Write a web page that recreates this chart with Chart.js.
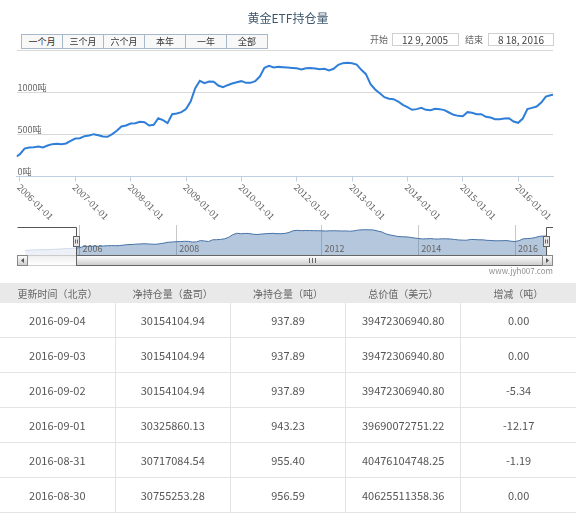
<!DOCTYPE html>
<html><head><meta charset="utf-8">
<script src="https://cdn.jsdelivr.net/npm/chart.js@4.4.1/dist/chart.umd.min.js"></script>
<style>
html,body{margin:0;padding:0;background:#fff;}
body{width:576px;height:515px;position:relative;overflow:hidden;font-family:"Noto Sans CJK SC","Noto Sans",sans-serif;}
#main{position:absolute;left:0;top:0;}
#nav{position:absolute;left:0;top:220px;}
#title{position:absolute;left:0;top:10px;width:576px;text-align:center;font-size:12px;line-height:16px;color:#3E576F;}
.btn{position:absolute;top:34px;height:15px;line-height:13px;width:42px;box-sizing:border-box;border:1px solid #a9b8c8;background:#f8f8f8;font-size:9px;color:#333;text-align:center;}
.lbl{position:absolute;top:33px;font-size:9px;line-height:13px;color:#666;}
.inp{position:absolute;top:33px;height:13px;box-sizing:border-box;border:1px solid #d0d0d0;background:#fff;font-size:10px;line-height:11px;color:#444;text-align:center;}
#credit{position:absolute;right:23px;top:265px;font-size:8px;line-height:11px;color:#909090;}
#tbl{position:absolute;left:0;top:283px;width:576px;border-collapse:collapse;table-layout:fixed;}
#tbl th{height:20px;padding:0;background:#e9e9e9;font-weight:normal;font-size:10px;color:#666;}
#tbl td{height:34px;padding:0;text-align:center;font-size:11px;color:#555;border-bottom:1px solid #e4e4e4;border-right:1px solid #e4e4e4;}
#tbl td:last-child{border-right:none;}
</style>
</head><body>
<canvas id="main" width="576" height="225"></canvas>
<canvas id="nav" width="576" height="55"></canvas>
<div id="title">黄金ETF持仓量</div>
<div id="controls"></div>
<div id="credit">www.jyh007.com</div>
<table id="tbl"><thead><tr id="thead"></tr></thead><tbody id="tbody"></tbody></table>
<script>
// ---------- data ----------
const chartTitle = '黄金ETF持仓量';
const startDate = '2005-12-09';
const endDate = '2016-08-18';
const axisYears = [2006, 2007, 2008, 2009, 2010, 2012, 2013, 2014, 2015, 2016];
const tickLabels = ['2006-01-01','2007-01-01','2008-01-01','2009-01-01','2010-01-01','2012-01-01','2013-01-01','2014-01-01','2015-01-01','2016-01-01'];
const yTicks = [0, 500, 1000, 1500];
const yUnit = '吨';
// monthly holdings (tonnes): 2005-12-09, then the 1st of each month of axisYears (2016 to Aug), then 2016-08-18
const holdings = [238,
  266,333,345,349,357,345,369,385,389,385,393,425,
  452,456,480,488,504,492,476,472,504,544,595,607,
  631,635,651,647,607,615,694,671,635,742,750,766,
  802,893,1052,1139,1111,1131,1127,1083,1063,1087,1107,1123,
  1135,1115,1115,1135,1190,1294,1317,1297,1305,1301,1297,1293,
  1289,1274,1289,1293,1285,1278,1282,1262,1282,1329,1349,1353,
  1349,1333,1270,1218,1099,1036,992,944,925,921,893,853,
  825,794,802,817,794,790,806,802,790,762,734,722,
  718,766,758,742,742,710,702,683,683,690,694,655,
  639,690,802,817,833,881,952,968,
  972];
const navEarlyDates = ['2004-11-18','2004-12-01','2005-01-01','2005-02-01','2005-03-01','2005-04-01','2005-05-01','2005-06-01','2005-07-01','2005-08-01','2005-09-01','2005-10-01','2005-11-01'];
const navEarlyHoldings = [85,105,120,130,140,145,150,160,170,180,195,210,225];
const navLateDates = ['2016-08-31','2016-09-04'];
const navLateHoldings = [955, 938];
const navTickYears = ['2006','2008','2012','2014','2016'];
const rangeButtons = ['一个月','三个月','六个月','本年','一年','全部'];
const inputLabels = ['开始','结束'];
const inputValues = ['12 9, 2005','8 18, 2016'];
const tableHeaders = ['更新时间（北京）','净持仓量（盎司）','净持仓量（吨）','总价值（美元）','增减（吨）'];
const tableDates = ['2016-09-04','2016-09-03','2016-09-02','2016-09-01','2016-08-31','2016-08-30'];
const tableOunces = ['30154104.94','30154104.94','30154104.94','30325860.13','30717084.54','30755253.28'];
const tableTonnes = ['937.89','937.89','937.89','943.23','955.40','956.59'];
const tableValues = ['39472306940.80','39472306940.80','39472306940.80','39690072751.22','40476104748.25','40625511358.36'];
const tableChanges = ['0.00','0.00','-5.34','-12.17','-1.19','0.00'];

// ---------- helpers ----------
const FONT = '"Noto Sans CJK SC", "Noto Sans", sans-serif';
const dates = [startDate];
axisYears.forEach(y => { const last = (y === 2016) ? 8 : 12; for (let m = 1; m <= last; m++) dates.push(y + '-' + String(m).padStart(2,'0') + '-01'); });
dates.push(endDate);
function ordinalX(s){ const p = s.split('-').map(Number); const y = p[0], m = p[1] || 1, d = p[2] || 1; let yi = axisYears.indexOf(y); if (yi < 0) yi = y - axisYears[0]; return yi*12 + (m-1) + (d-1)/31; }
const navDates = navEarlyDates.concat(dates, navLateDates);
const navHoldings = navEarlyHoldings.concat(holdings, navLateHoldings);

// ---------- html controls / table ----------
document.getElementById('title').textContent = chartTitle;
const ctl = document.getElementById('controls');
rangeButtons.forEach((t,i) => { const b = document.createElement('div'); b.className='btn'; b.style.left=(21+i*41)+'px'; b.textContent=t; ctl.appendChild(b); });
[[370,391.5,67],[465,488,66]].forEach((p,i) => {
  const l = document.createElement('div'); l.className='lbl'; l.style.left=p[0]+'px'; l.textContent=inputLabels[i]; ctl.appendChild(l);
  const v = document.createElement('div'); v.className='inp'; v.style.left=p[1]+'px'; v.style.width=p[2]+'px'; v.textContent=inputValues[i]; ctl.appendChild(v);
});
const thr = document.getElementById('thead');
tableHeaders.forEach(h => { const th=document.createElement('th'); th.textContent=h; thr.appendChild(th); });
const tb = document.getElementById('tbody');
tableDates.forEach((d,i) => { const tr=document.createElement('tr'); [d,tableOunces[i],tableTonnes[i],tableValues[i],tableChanges[i]].forEach(v=>{const td=document.createElement('td'); td.textContent=v; tr.appendChild(td);}); tb.appendChild(tr); });

// ---------- main chart ----------
const xLabelPlugin = { id:'xlabels', afterDraw(c){
  const {ctx, scales:{x}, chartArea:a} = c; ctx.save();
  ctx.font = '9px ' + FONT; ctx.fillStyle = '#666'; ctx.textAlign='left'; ctx.textBaseline='middle';
  tickLabels.forEach(l => { const px = x.getPixelForValue(ordinalX(l)); ctx.save(); ctx.translate(px-1, a.bottom+9); ctx.rotate(Math.PI/4); ctx.fillText(l,0,0); ctx.restore(); });
  ctx.restore(); } };

new Chart(document.getElementById('main'), {
  type:'line',
  data:{ datasets:[{ data: dates.map((d,i)=>({x:ordinalX(d), y:holdings[i]})), borderColor:'#2f7ed8', borderWidth:2, pointRadius:0, tension:0, fill:false }] },
  options:{
    responsive:false, animation:false, devicePixelRatio:1,
    layout:{ padding:{ left:14.5, right:23, top:50.5, bottom:43.5 } },
    plugins:{ legend:{display:false}, tooltip:{enabled:false} },
    scales:{
      x:{ type:'linear', min:ordinalX(startDate), max:ordinalX(endDate),
          afterBuildTicks: s => { s.ticks = tickLabels.map(l=>({value:ordinalX(l)})); },
          ticks:{display:false},
          grid:{ drawOnChartArea:false, drawTicks:true, tickLength:5, color:'#C0D0E0' },
          border:{ display:true, color:'#C0D0E0', width:1 } },
      y:{ min:yTicks[0], max:yTicks[yTicks.length-1],
          afterBuildTicks: s => { s.ticks = yTicks.map(v=>({value:v})); },
          ticks:{ mirror:true, padding:1, labelOffset:-5, color:'#666', font:{size:9, family:FONT},
                  callback: v => v === yTicks[yTicks.length-1] ? '' : v + yUnit },
          grid:{ drawTicks:false, lineWidth:1, color: c => (c.tick && c.tick.value === 0) ? 'rgba(0,0,0,0)' : '#d9d9d9' },
          border:{ display:false } }
    }
  },
  plugins:[xLabelPlugin]
});

// ---------- navigator ----------
const navMin = -15.6, navMax = 117.4;
const navPlugin = { id:'navdeco',
  beforeDatasetsDraw(c){
    const {ctx, chartArea:a, scales:{x}} = c; ctx.save(); ctx.strokeStyle='#c8c8c8'; ctx.lineWidth=1;
    navTickYears.forEach(y => { const px = Math.round(x.getPixelForValue(ordinalX(y+'-01-01')))+0.5; ctx.beginPath(); ctx.moveTo(px, a.top-2); ctx.lineTo(px, a.bottom); ctx.stroke(); });
    ctx.restore();
  },
  afterDatasetsDraw(c){
    const {ctx, chartArea:a, scales:{x}} = c; ctx.save();
    ctx.font = '9px ' + FONT; ctx.fillStyle='#666'; ctx.textAlign='left'; ctx.textBaseline='middle';
    navTickYears.forEach(y => { const px = x.getPixelForValue(ordinalX(y+'-01-01')); ctx.fillText(y, px+3, a.top+22); });
    const X0 = Math.round(x.getPixelForValue(ordinalX(startDate)))+0.5;
    const X1 = Math.round(x.getPixelForValue(ordinalX(endDate)))+0.5;
    const h = a.bottom - a.top;
    ctx.fillStyle='rgba(255,255,255,0.75)';
    ctx.fillRect(a.left, a.top, X0-a.left, h);
    ctx.fillRect(X1, a.top, a.right-X1, h);
    // scrollbar
    const sy = Math.round(a.bottom)+0.5, sh = 10, L = Math.round(a.left)+0.5, R = Math.round(a.right)-0.5;
    let g = ctx.createLinearGradient(0, sy, 0, sy+sh); g.addColorStop(0,'#eeeeee'); g.addColorStop(1,'#ffffff');
    ctx.fillStyle=g; ctx.fillRect(L, sy, R-L, sh); ctx.strokeStyle='#cccccc'; ctx.lineWidth=1; ctx.strokeRect(L, sy, R-L, sh);
    const bg = () => { const gg = ctx.createLinearGradient(0, sy, 0, sy+sh); gg.addColorStop(0,'#ffffff'); gg.addColorStop(1,'#cccccc'); return gg; };
    // thumb
    ctx.fillStyle=bg(); ctx.fillRect(X0, sy, X1-X0, sh); ctx.strokeStyle='#666'; ctx.strokeRect(X0, sy, X1-X0, sh);
    const cx = Math.round((X0+X1)/2)+0.5; ctx.beginPath(); [-3,0,3].forEach(d=>{ ctx.moveTo(cx+d, sy+2.5); ctx.lineTo(cx+d, sy+7.5); }); ctx.stroke();
    // buttons
    [[L, 1],[R-10, -1]].forEach(([bx,dir]) => {
      ctx.fillStyle=bg(); ctx.fillRect(bx, sy, 10, sh); ctx.strokeStyle='#888'; ctx.strokeRect(bx, sy, 10, sh);
      const mx = bx+5, my = sy+5; ctx.fillStyle='#555'; ctx.beginPath();
      ctx.moveTo(mx+1.5*dir, my-2.5); ctx.lineTo(mx-1.5*dir, my); ctx.lineTo(mx+1.5*dir, my+2.5); ctx.closePath(); ctx.fill();
    });
    // outline
    const T = Math.round(a.top)+0.5;
    ctx.strokeStyle='#555'; ctx.lineWidth=1; ctx.beginPath();
    ctx.moveTo(L, T); ctx.lineTo(X0, T); ctx.lineTo(X0, sy);
    ctx.moveTo(X1, sy); ctx.lineTo(X1, T); ctx.lineTo(R+0.5, T); ctx.stroke();
    // handles
    [X0, X1].forEach(hx => {
      const hy = Math.round(a.top)+9.5;
      ctx.fillStyle='#ebe7e8'; ctx.fillRect(hx-3, hy, 6, 10); ctx.strokeStyle='#666'; ctx.strokeRect(hx-3, hy, 6, 10);
      ctx.beginPath(); ctx.moveTo(hx-1, hy+3); ctx.lineTo(hx-1, hy+7); ctx.moveTo(hx+1, hy+3); ctx.lineTo(hx+1, hy+7); ctx.stroke();
    });
    ctx.restore();
  } };

new Chart(document.getElementById('nav'), {
  type:'line',
  data:{ datasets:[{ data: navDates.map((d,i)=>({x:ordinalX(d), y:navHoldings[i]})), borderColor:'#4572A7', borderWidth:1, backgroundColor:'rgba(69,114,167,0.4)', fill:'start', pointRadius:0, tension:0 }] },
  options:{
    responsive:false, animation:false, devicePixelRatio:1,
    layout:{ padding:{ left:16.5, right:23, top:7, bottom:20 } },
    plugins:{ legend:{display:false}, tooltip:{enabled:false} },
    scales:{ x:{ type:'linear', display:false, min:navMin, max:navMax }, y:{ display:false, min:-180, max:1520 } }
  },
  plugins:[navPlugin]
});
</script>
</body></html>
